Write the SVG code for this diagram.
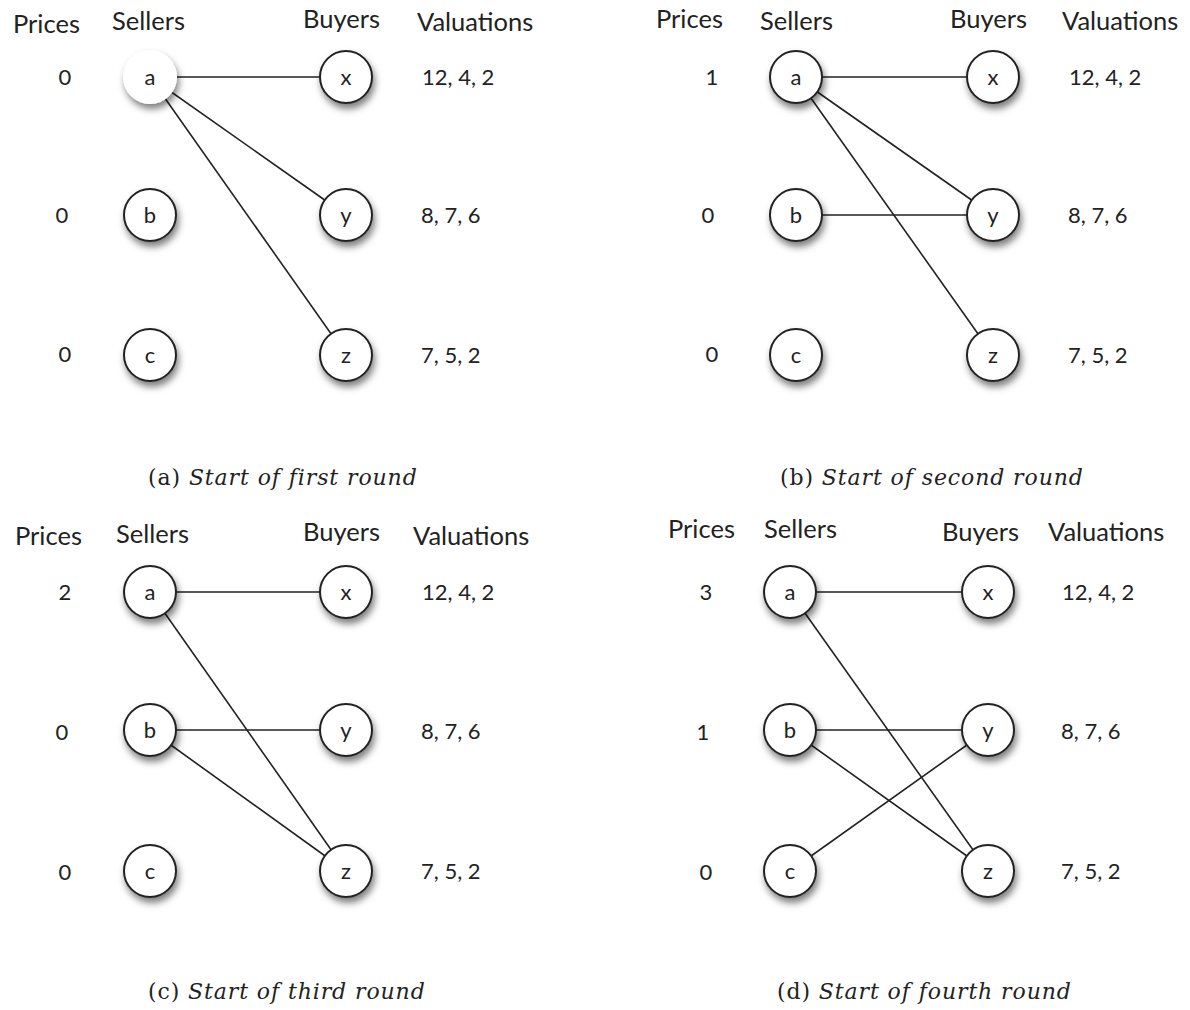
<svg xmlns="http://www.w3.org/2000/svg" width="1190" height="1010" viewBox="0 0 1190 1010">
<defs>
<filter id="sh" x="-50%" y="-50%" width="200%" height="200%">
<feDropShadow dx="2" dy="5" stdDeviation="3.5" flood-color="#000" flood-opacity="0.5"/>
</filter>
<style>
.hd{font-family:Lato,"Open Sans",sans-serif;font-size:25.5px;fill:#222}
.num{font-family:Lato,"Open Sans",sans-serif;font-size:22px;fill:#222}
.pr{font-family:Lato,"Open Sans",sans-serif;font-size:22px;fill:#222;text-anchor:middle}
.nl{font-family:Lato,"Open Sans",sans-serif;font-size:22px;fill:#222;text-anchor:middle}
.nd{fill:#fff;stroke:#222;stroke-width:2;filter:url(#sh)}
.nd0{fill:#fff;stroke:none;filter:url(#sh)}
.cap{font-family:"DejaVu Serif",serif;font-size:22px;letter-spacing:0.9px;fill:#222}
.cap tspan.it{font-style:italic}
.e{stroke:#222;stroke-width:1.6;fill:none}
</style>
</defs>
<rect width="1190" height="1010" fill="#fff"/>

<g id="connectors">
<line class="e" x1="150" y1="77" x2="346" y2="77"/>
<line class="e" x1="150" y1="77" x2="346" y2="215"/>
<line class="e" x1="150" y1="77" x2="346" y2="355"/>
<line class="e" x1="796" y1="77" x2="993" y2="77"/>
<line class="e" x1="796" y1="77" x2="993" y2="215"/>
<line class="e" x1="796" y1="77" x2="993" y2="355"/>
<line class="e" x1="796" y1="215" x2="993" y2="215"/>
<line class="e" x1="150" y1="592" x2="346" y2="592"/>
<line class="e" x1="150" y1="592" x2="346" y2="871"/>
<line class="e" x1="150" y1="730" x2="346" y2="730"/>
<line class="e" x1="150" y1="730" x2="346" y2="871"/>
<line class="e" x1="790" y1="592" x2="988" y2="592"/>
<line class="e" x1="790" y1="592" x2="988" y2="871"/>
<line class="e" x1="790" y1="730" x2="988" y2="730"/>
<line class="e" x1="790" y1="730" x2="988" y2="871"/>
<line class="e" x1="790" y1="871" x2="988" y2="730"/>
</g>

<g id="panel-a">
<text class="hd" x="13" y="33">Prices</text>
<text class="hd" x="112" y="30">Sellers</text>
<text class="hd" x="303" y="28">Buyers</text>
<text class="hd" x="417" y="31">Valuations</text>
<text class="pr" x="65" y="85">0</text>
<text class="pr" x="62" y="223">0</text>
<text class="pr" x="65" y="362">0</text>
<g id="a-a"><circle class="nd0" cx="150" cy="77" r="27"/><text class="nl" x="150" y="85">a</text></g>
<g id="a-b"><circle class="nd" cx="150" cy="215" r="26"/><text class="nl" x="150" y="223">b</text></g>
<g id="a-c"><circle class="nd" cx="150" cy="355" r="26"/><text class="nl" x="150" y="363">c</text></g>
<g id="a-x"><circle class="nd" cx="346" cy="77" r="26"/><text class="nl" x="346" y="85">x</text></g>
<g id="a-y"><circle class="nd" cx="346" cy="215" r="26"/><text class="nl" x="346" y="223">y</text></g>
<g id="a-z"><circle class="nd" cx="346" cy="355" r="26"/><text class="nl" x="346" y="363">z</text></g>
<text class="num" x="422" y="85">12, 4, 2</text>
<text class="num" x="421" y="223">8, 7, 6</text>
<text class="num" x="421" y="363">7, 5, 2</text>
<text class="cap" x="148" y="485">(a) <tspan class="it">Start of first round</tspan></text>
</g>

<g id="panel-b">
<text class="hd" x="656" y="28">Prices</text>
<text class="hd" x="760" y="30">Sellers</text>
<text class="hd" x="950" y="28">Buyers</text>
<text class="hd" x="1062" y="30">Valuations</text>
<text class="pr" x="712" y="85">1</text>
<text class="pr" x="708" y="223">0</text>
<text class="pr" x="712" y="362">0</text>
<g id="b-a"><circle class="nd" cx="796" cy="77" r="26"/><text class="nl" x="796" y="85">a</text></g>
<g id="b-b"><circle class="nd" cx="796" cy="215" r="26"/><text class="nl" x="796" y="223">b</text></g>
<g id="b-c"><circle class="nd" cx="796" cy="355" r="26"/><text class="nl" x="796" y="363">c</text></g>
<g id="b-x"><circle class="nd" cx="993" cy="77" r="26"/><text class="nl" x="993" y="85">x</text></g>
<g id="b-y"><circle class="nd" cx="993" cy="215" r="26"/><text class="nl" x="993" y="223">y</text></g>
<g id="b-z"><circle class="nd" cx="993" cy="355" r="26"/><text class="nl" x="993" y="363">z</text></g>
<text class="num" x="1069" y="85">12, 4, 2</text>
<text class="num" x="1068" y="223">8, 7, 6</text>
<text class="num" x="1068" y="363">7, 5, 2</text>
<text class="cap" x="780" y="485">(b) <tspan class="it">Start of second round</tspan></text>
</g>

<g id="panel-c">
<text class="hd" x="15" y="545">Prices</text>
<text class="hd" x="116" y="543">Sellers</text>
<text class="hd" x="303" y="541">Buyers</text>
<text class="hd" x="413" y="545">Valuations</text>
<text class="pr" x="65" y="600">2</text>
<text class="pr" x="62" y="740">0</text>
<text class="pr" x="65" y="880">0</text>
<g id="c-a"><circle class="nd" cx="150" cy="592" r="26"/><text class="nl" x="150" y="600">a</text></g>
<g id="c-b"><circle class="nd" cx="150" cy="730" r="26"/><text class="nl" x="150" y="738">b</text></g>
<g id="c-c"><circle class="nd" cx="150" cy="871" r="26"/><text class="nl" x="150" y="879">c</text></g>
<g id="c-x"><circle class="nd" cx="346" cy="592" r="26"/><text class="nl" x="346" y="600">x</text></g>
<g id="c-y"><circle class="nd" cx="346" cy="730" r="26"/><text class="nl" x="346" y="738">y</text></g>
<g id="c-z"><circle class="nd" cx="346" cy="871" r="26"/><text class="nl" x="346" y="879">z</text></g>
<text class="num" x="422" y="600">12, 4, 2</text>
<text class="num" x="421" y="739">8, 7, 6</text>
<text class="num" x="421" y="879">7, 5, 2</text>
<text class="cap" x="148" y="999">(c) <tspan class="it">Start of third round</tspan></text>
</g>

<g id="panel-d">
<text class="hd" x="668" y="538">Prices</text>
<text class="hd" x="764" y="538">Sellers</text>
<text class="hd" x="942" y="541">Buyers</text>
<text class="hd" x="1048" y="541">Valuations</text>
<text class="pr" x="706" y="600">3</text>
<text class="pr" x="703" y="740">1</text>
<text class="pr" x="706" y="880">0</text>
<g id="d-a"><circle class="nd" cx="790" cy="592" r="26"/><text class="nl" x="790" y="600">a</text></g>
<g id="d-b"><circle class="nd" cx="790" cy="730" r="26"/><text class="nl" x="790" y="738">b</text></g>
<g id="d-c"><circle class="nd" cx="790" cy="871" r="26"/><text class="nl" x="790" y="879">c</text></g>
<g id="d-x"><circle class="nd" cx="988" cy="592" r="26"/><text class="nl" x="988" y="600">x</text></g>
<g id="d-y"><circle class="nd" cx="988" cy="730" r="26"/><text class="nl" x="988" y="738">y</text></g>
<g id="d-z"><circle class="nd" cx="988" cy="871" r="26"/><text class="nl" x="988" y="879">z</text></g>
<text class="num" x="1062" y="600">12, 4, 2</text>
<text class="num" x="1061" y="739">8, 7, 6</text>
<text class="num" x="1061" y="879">7, 5, 2</text>
<text class="cap" x="777" y="999">(d) <tspan class="it">Start of fourth round</tspan></text>
</g>
</svg>
